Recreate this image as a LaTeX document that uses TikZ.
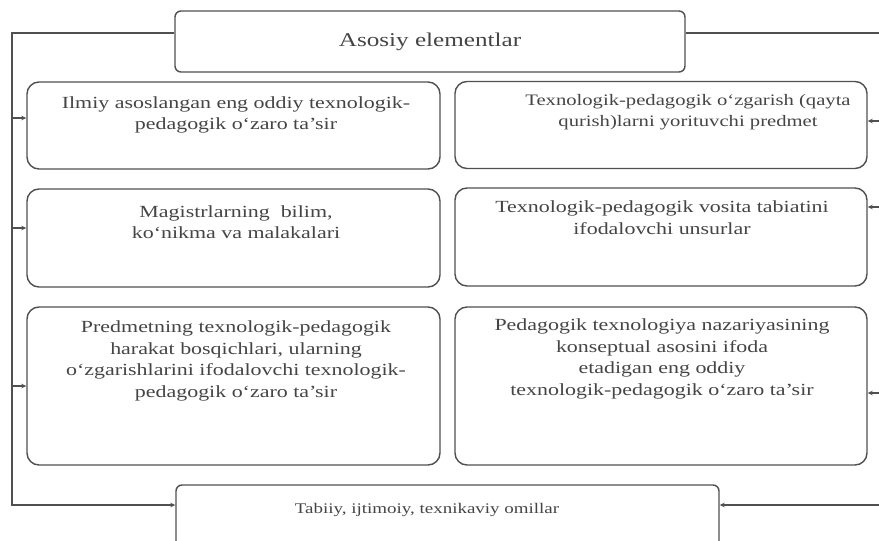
\documentclass[tikz,border=0pt]{standalone}
\usepackage{fontspec}
\setmainfont{Liberation Serif}[FakeStretch=1.29]
\usetikzlibrary{arrows.meta}
\definecolor{ln}{HTML}{505050}
\definecolor{tx}{HTML}{454545}
\begin{document}
\begin{tikzpicture}[x=1pt,y=-1pt,
  box/.style={draw=ln, line width=1.4pt, rounded corners=12pt, inner sep=0pt},
  hbox/.style={draw=ln, line width=1.4pt, rounded corners=6pt, inner sep=0pt},
  txt/.style={text=tx, align=center, inner sep=0pt, font=\fontsize{17}{21.5}\selectfont},
  wire/.style={draw=ln, line width=1.2pt},
  arr/.style={wire, -{Stealth[length=5pt,width=4.5pt]}}]
\useasboundingbox (0,0) rectangle (879,541);
\clip (0,0) rectangle (879,541);
\fill[white] (0,0) rectangle (879,541);

% header and footer boxes
\node[hbox, minimum width=510pt, minimum height=61pt, text=tx,
      font=\fontsize{19.5}{24}\selectfont] (top) at (430,41.5) {Asosiy elementlar};
\node[hbox, minimum width=543pt, minimum height=90pt] (bot) at (447.5,530) {};
\node[txt, font=\fontsize{14.7}{18}\selectfont] (bottxt) at (427,510) {Tabiiy, ijtimoiy, texnikaviy omillar};

% element boxes
\node[box, minimum width=413pt, minimum height=87pt] (b1L) at (233.5,125.5) {};
\node[box, minimum width=412pt, minimum height=87pt] (b1R) at (661,125) {};
\node[box, minimum width=413pt, minimum height=98pt] (b2L) at (233.5,238) {};
\node[box, minimum width=412pt, minimum height=98pt] (b2R) at (661,237) {};
\node[box, minimum width=413pt, minimum height=158pt] (b3L) at (233.5,386) {};
\node[box, minimum width=412pt, minimum height=158pt] (b3R) at (661,386) {};

% texts
\node[txt] (t1L) at (236,115) {Ilmiy asoslangan eng oddiy texnologik-\\pedagogik o‘zaro ta’sir};
\node[txt, font=\fontsize{16}{21.5}\selectfont] (t1R) at (688,112) {Texnologik-pedagogik o‘zgarish (qayta\\qurish)larni yorituvchi predmet};
\node[txt] (t2L) at (236,222) {Magistrlarning\ \ bilim,\\ko‘nikma va malakalari};
\node[txt] (t2R) at (662,217.5) {Texnologik-pedagogik vosita tabiatini\\ifodalovchi unsurlar};
\node[txt] (t3L) at (236,361) {Predmetning texnologik-pedagogik\\harakat bosqichlari, ularning\\o‘zgarishlarini ifodalovchi texnologik-\\pedagogik o‘zaro ta’sir};
\node[txt] (t3R) at (662,359) {Pedagogik texnologiya nazariyasining\\konseptual asosini ifoda\\etadigan eng oddiy\\texnologik-pedagogik o‘zaro ta’sir};

% frame coordinates
\coordinate (TL) at (12,33);
\coordinate (BL) at (12,505);
\coordinate (TR) at (879,33);
\coordinate (BR) at (879,505);
\coordinate (L1) at (12,118);
\coordinate (L2) at (12,228);
\coordinate (L3) at (12,386);
\coordinate (R1) at (879,121);
\coordinate (R2) at (879,207);
\coordinate (R3) at (879,393);

% connectors
\draw[arr] (TL -| top.west) -- (TL) -- (BL) -- (BL -| bot.west);
\draw[wire] (TR -| top.east) -- (TR);
\draw[arr] (BR) -- (BR -| bot.east);
\draw[arr] (L1) -- (L1 -| b1L.west);
\draw[arr] (L2) -- (L2 -| b2L.west);
\draw[arr] (L3) -- (L3 -| b3L.west);
\draw[arr] (R1) -- (R1 -| b1R.east);
\draw[arr] (R2) -- (R2 -| b2R.east);
\draw[arr] (R3) -- (R3 -| b3R.east);
\end{tikzpicture}
\end{document}
